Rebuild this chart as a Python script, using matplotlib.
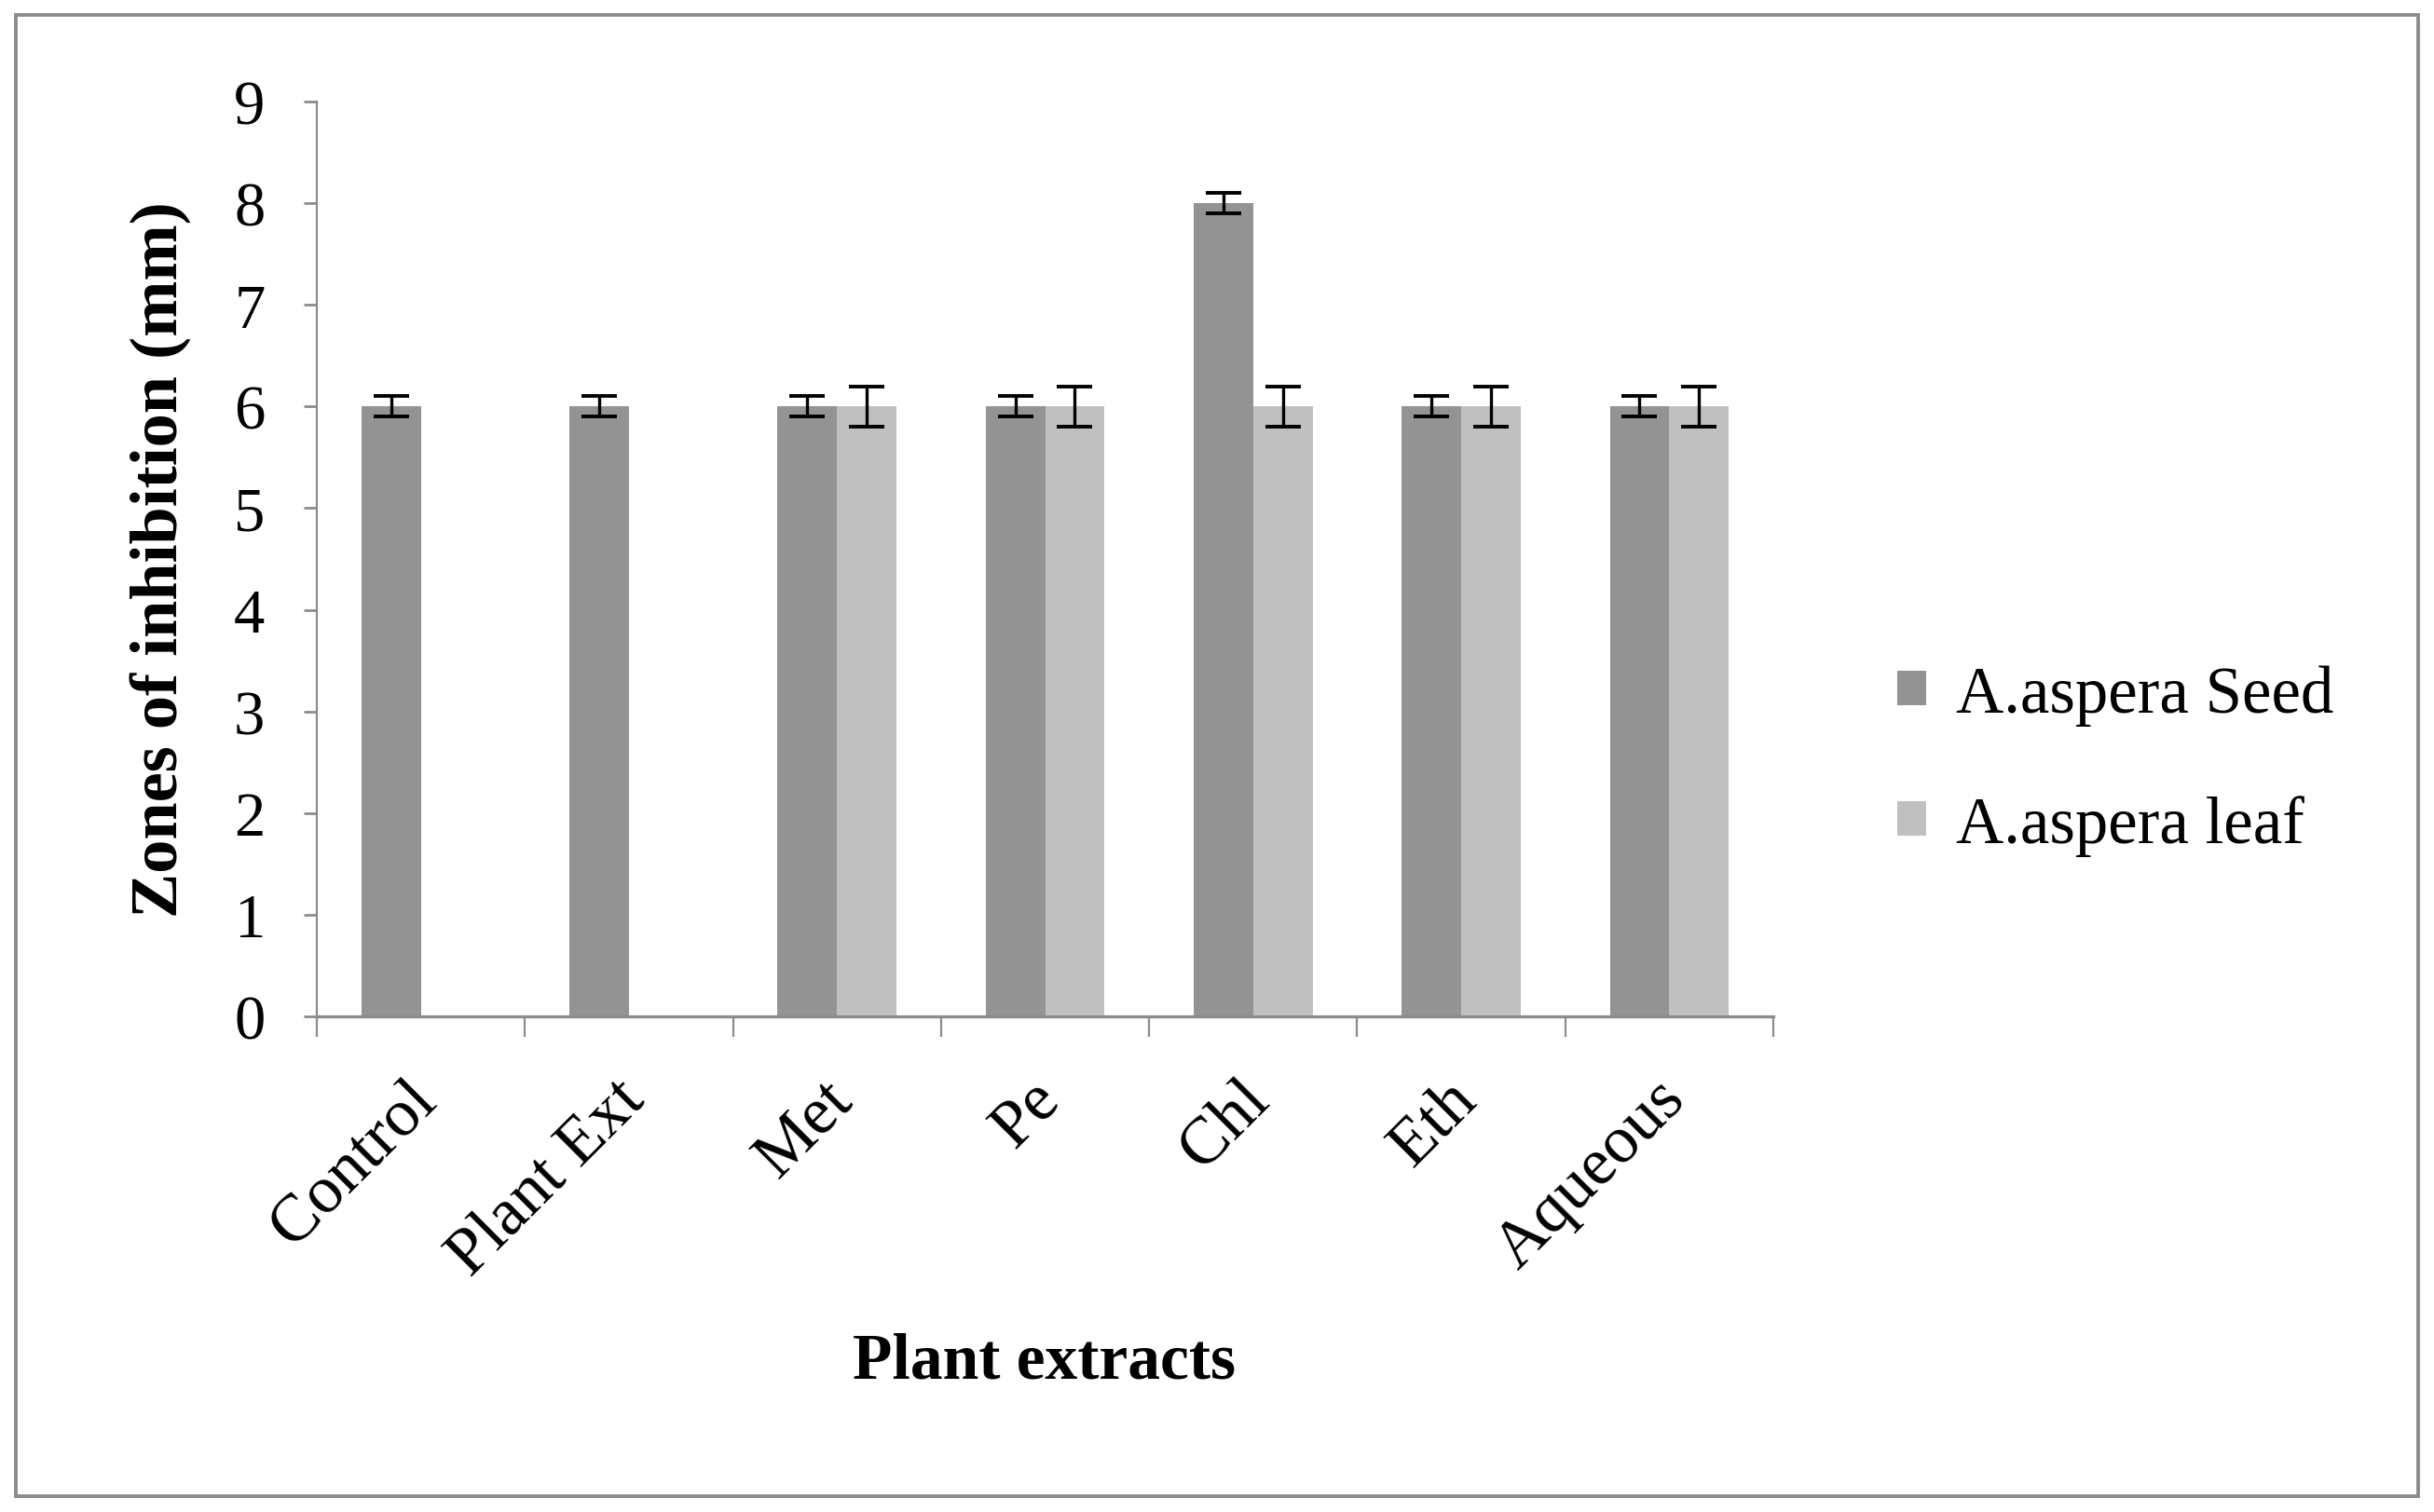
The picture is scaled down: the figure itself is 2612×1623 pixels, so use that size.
import numpy as np
import matplotlib
matplotlib.use('Agg')
import matplotlib.pyplot as plt
import matplotlib.transforms as mtransforms
from matplotlib.patches import Rectangle

plt.rcParams['font.family'] = ['Liberation Serif', 'DejaVu Serif']

# data
categories = ['Control', 'Plant Ext', 'Met', 'Pe', 'Chl', 'Eth', 'Aqueous']
seed = [6, 6, 6, 6, 8, 6, 6]
seed_err = [0.1, 0.1, 0.1, 0.1, 0.1, 0.1, 0.1]
leaf = [np.nan, np.nan, 6, 6, 6, 6, 6]
leaf_err = [np.nan, np.nan, 0.2, 0.2, 0.2, 0.2, 0.2]
series_names = ['A.aspera Seed', 'A.aspera leaf']
yticks = np.arange(0, 10, 1)

axis_gray = '#8c8c8c'

fig = plt.figure(figsize=(13.06, 8.12), dpi=200)
ax = fig.add_axes([340/2612, 1 - 1092/1624, (1903-340)/2612, (1092-110)/1624])

x = np.arange(len(categories)) + 0.5
w = 1 / 3.5
ax.bar(x - w/2, seed, w, color='#939393', label=series_names[0], zorder=2)
ax.bar(x + w/2, leaf, w, color='#c0c0c0', label=series_names[1], zorder=2)
ax.errorbar(x - w/2, seed, yerr=seed_err, fmt='none', ecolor='black',
            elinewidth=1.2, capsize=6.8, capthick=1.4, zorder=3)
ax.errorbar(x + w/2, leaf, yerr=leaf_err, fmt='none', ecolor='black',
            elinewidth=1.2, capsize=6.8, capthick=1.4, zorder=3)

ax.set_xlim(0, len(categories))
ax.set_ylim(0, 9)
ax.set_yticks(yticks)
ax.set_yticklabels([str(v) for v in yticks], fontsize=24)
ax.set_xticks(x)
ax.set_xticklabels(categories, fontsize=26, rotation=45, ha='right', va='top')
ax.set_xticks(np.arange(len(categories) + 1), minor=True)

ax.tick_params(axis='x', which='major', length=0, pad=20)
ax.tick_params(axis='x', which='minor', length=8, width=0.8, color=axis_gray, direction='out')
ax.tick_params(axis='y', length=5, width=1.0, color=axis_gray, direction='out', pad=15)

# nudge rotated labels right, like Excel places them (after tick_params, which resets transforms)
offset = mtransforms.ScaledTranslation(10.5/72, 0, fig.dpi_scale_trans)
for lbl in ax.get_xticklabels():
    lbl.set_transform(lbl.get_transform() + offset)

for s in ['top', 'right']:
    ax.spines[s].set_visible(False)
ax.spines['left'].set_color(axis_gray)
ax.spines['left'].set_linewidth(0.8)
ax.spines['bottom'].set_color(axis_gray)
ax.spines['bottom'].set_linewidth(1.2)

fig.text(172/2612, 1 - 601/1624, 'Zones of inhibition (mm)', rotation=90,
         ha='center', va='center', fontsize=26, fontweight='bold')
fig.text(1121/2612, 1 - 1463/1624, 'Plant extracts', ha='center', va='center',
         fontsize=25, fontweight='bold')

fig.legend(loc='center left', bbox_to_anchor=(2036/2612, 1 - 817/1624),
           frameon=False, fontsize=25.5, handlelength=0.44, handleheight=0.44,
           handletextpad=0.45, labelspacing=1.05, borderpad=0, borderaxespad=0)

fig.patches.append(Rectangle((17/2612, 1 - 1607/1624), (2595-17)/2612, (1607-17)/1624,
                             transform=fig.transFigure, fill=False,
                             edgecolor=axis_gray, linewidth=1.4))

plt.savefig('out.png', dpi=200)
